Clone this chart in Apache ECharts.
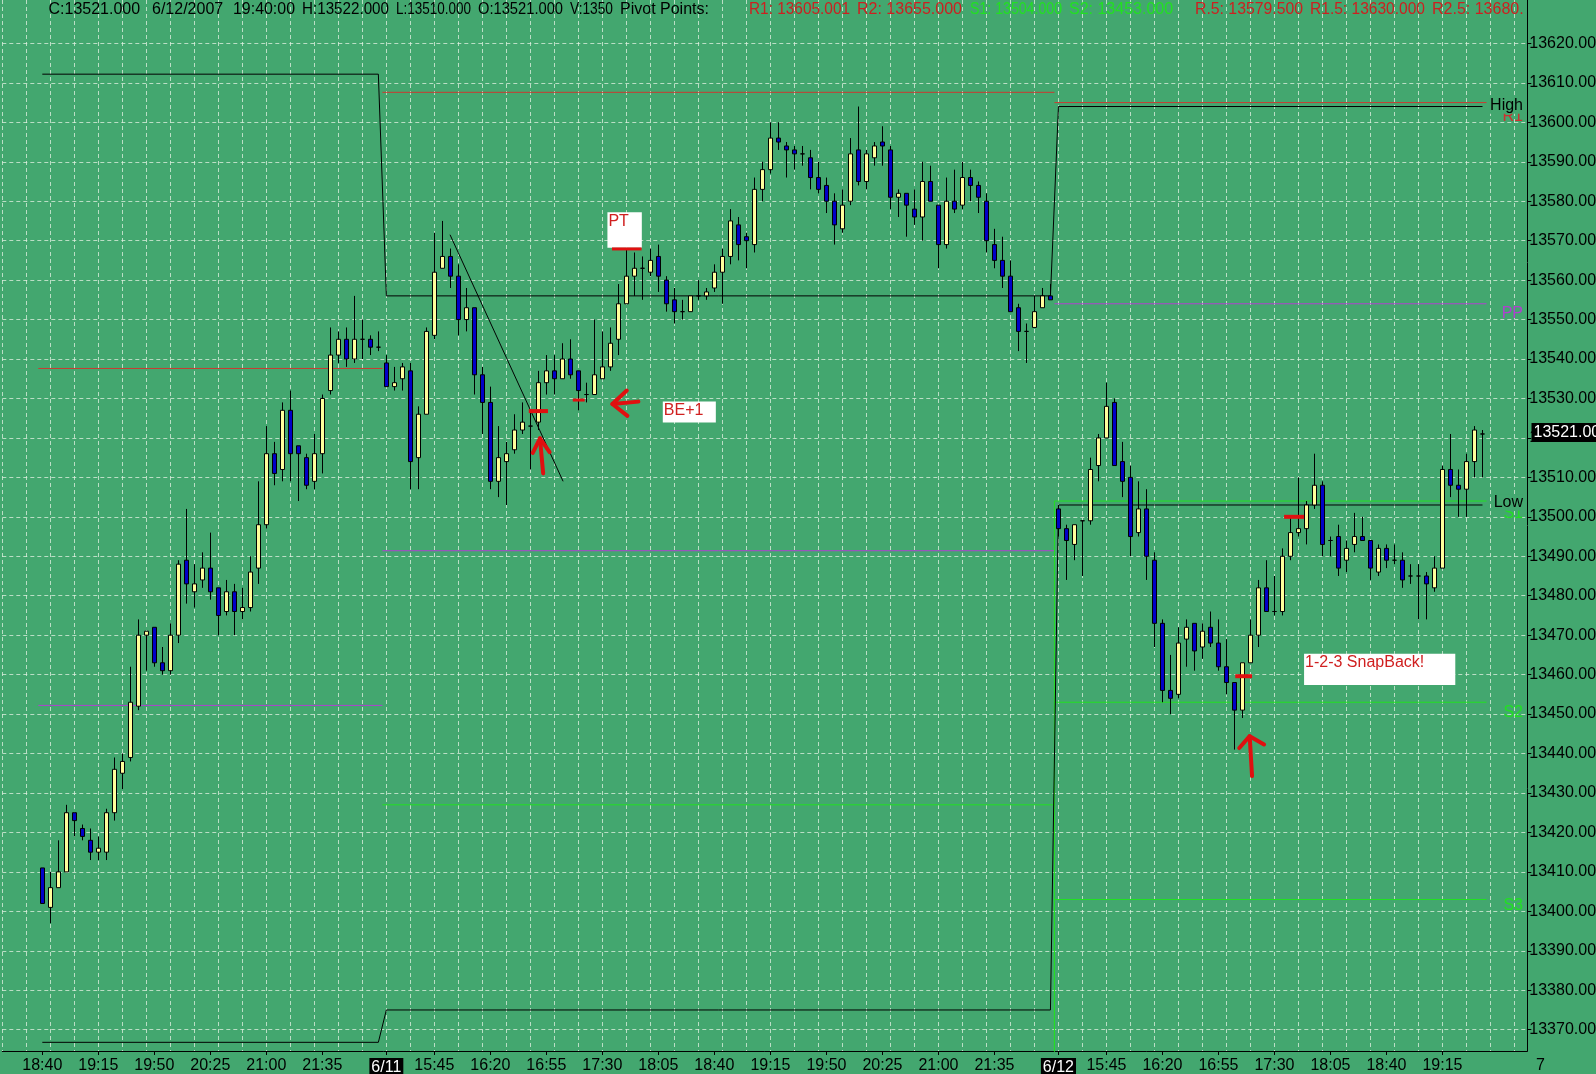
<!DOCTYPE html>
<html><head><meta charset="utf-8">
<script src="https://cdn.jsdelivr.net/npm/echarts@6/dist/echarts.min.js"></script>
<style>html,body{margin:0;padding:0;background:#43a76f;overflow:hidden}#c{width:1596px;height:1074px}</style>
</head><body><div id="c"></div>
<script>
// ---- candle data (bar index = position, 5-minute bars) ----
const opens = [13411,13401,13406,13410,13425,13421,13418,13415,13415,13425,13435,13439,13452,13470,13472,13463,13461,13470,13489,13481,13484,13487,13482,13476,13481,13476,13477,13487,13498,13516,13512,13527,13518,13515,13509,13516,13532,13541,13545,13540,13545,13545,13543,13539,13533,13535,13537,13515,13526,13546,13563,13566,13561,13550,13553,13536,13529,13509,13514,13517,13522,13523,13524,13534,13537,13535,13540,13537,13531,13531,13535,13538,13545,13554,13561,13563,13562,13566,13560,13555,13552,13552,13556,13556,13558,13562,13566,13574,13571,13569,13583,13588,13596,13594,13593,13592,13591,13586,13584,13580,13573,13580,13593,13585,13591,13595,13593,13581,13582,13578,13576,13585,13579,13569,13580,13579,13586,13584,13580,13569,13565,13561,13553,13547,13548,13553,13556,13502,13497,13493,13499,13499,13513,13520,13529,13514,13510,13496,13502,13489,13473,13456,13455,13469,13473,13467,13472,13468,13462,13458,13451,13463,13470,13482,13476,13476,13490,13496,13497,13503,13508,13494,13495,13489,13493,13495,13494,13486,13492,13489,13489,13485,13485,13485,13482,13487,13512,13508,13507,13514,13521];
const closes = [13402,13406,13410,13425,13423,13419,13415,13416,13425,13436,13438,13453,13470,13471,13463,13461,13470,13488,13483,13483,13487,13481,13475,13481,13476,13477,13486,13498,13516,13511,13527,13516,13516,13508,13516,13530,13541,13545,13540,13545,13545,13543,13543,13533,13534,13538,13514,13526,13547,13562,13566,13561,13550,13553,13536,13529,13509,13515,13516,13522,13524,13523,13534,13537,13535,13540,13536,13532,13531,13536,13538,13544,13554,13561,13563,13563,13565,13561,13554,13552,13552,13556,13556,13557,13562,13566,13575,13569,13570,13583,13588,13596,13595,13593,13592,13592,13586,13583,13580,13574,13579,13592,13585,13592,13594,13594,13581,13582,13579,13576,13585,13580,13569,13580,13578,13586,13584,13581,13570,13565,13561,13552,13547,13547,13552,13556,13555,13497,13494,13498,13499,13512,13520,13528,13513,13509,13495,13502,13490,13473,13456,13454,13468,13472,13466,13471,13468,13462,13458,13451,13463,13470,13482,13476,13476,13490,13496,13497,13503,13508,13493,13494,13487,13492,13495,13494,13487,13492,13489,13489,13484,13485,13485,13483,13487,13512,13508,13507,13514,13522,13521];
const lows = [13402,13397,13406,13410,13419,13418,13413,13413,13413,13423,13431,13438,13451,13461,13462,13460,13460,13468,13478,13477,13482,13479,13470,13475,13470,13474,13476,13483,13497,13508,13509,13509,13504,13507,13507,13511,13531,13539,13538,13539,13540,13541,13542,13533,13532,13532,13507,13507,13526,13545,13563,13558,13546,13547,13531,13521,13507,13505,13503,13516,13521,13512,13522,13531,13531,13535,13535,13527,13529,13531,13535,13537,13541,13554,13556,13555,13561,13557,13552,13549,13550,13552,13555,13555,13557,13554,13564,13565,13563,13567,13580,13587,13593,13586,13588,13589,13583,13582,13577,13569,13572,13579,13584,13583,13589,13589,13578,13576,13571,13574,13570,13580,13563,13568,13577,13578,13580,13577,13567,13563,13558,13552,13542,13539,13548,13553,13555,13495,13484,13489,13485,13498,13509,13520,13513,13505,13490,13495,13484,13467,13453,13450,13454,13462,13461,13464,13467,13461,13455,13441,13449,13463,13467,13476,13475,13475,13489,13495,13493,13502,13490,13490,13485,13486,13491,13494,13484,13485,13487,13488,13482,13483,13474,13474,13481,13487,13505,13500,13500,13510,13510];
const highs = [13411,13410,13418,13427,13425,13422,13421,13419,13426,13439,13440,13462,13474,13471,13472,13467,13473,13489,13502,13488,13491,13496,13482,13484,13483,13482,13490,13509,13523,13519,13529,13532,13518,13516,13521,13531,13548,13547,13548,13556,13550,13546,13547,13541,13538,13539,13539,13528,13548,13572,13575,13568,13564,13558,13553,13538,13533,13523,13519,13526,13529,13527,13537,13541,13541,13544,13545,13537,13534,13550,13547,13548,13559,13568,13567,13566,13568,13569,13561,13558,13555,13556,13560,13558,13564,13568,13578,13576,13572,13586,13590,13600,13600,13595,13594,13594,13593,13590,13586,13582,13583,13596,13604,13593,13595,13599,13594,13583,13582,13583,13590,13589,13579,13586,13588,13590,13588,13585,13582,13573,13571,13565,13554,13549,13556,13558,13559,13503,13498,13498,13499,13515,13521,13534,13530,13519,13513,13509,13507,13491,13474,13465,13472,13474,13473,13473,13476,13474,13469,13458,13463,13474,13484,13489,13485,13492,13500,13510,13504,13516,13509,13495,13498,13494,13501,13500,13494,13493,13493,13493,13491,13488,13488,13486,13490,13513,13521,13512,13516,13523,13522];

// ---- x axis tick labels ----
const tickPos  = [0,7,14,21,28,35,43,49,56,63,70,77,84,91,98,105,112,119,127,133,140,147,154,161,168,175];
const tickText = ['18:40','19:15','19:50','20:25','21:00','21:35','6/11','15:45','16:20','16:55','17:30','18:05','18:40','19:15','19:50','20:25','21:00','21:35','6/12','15:45','16:20','16:55','17:30','18:05','18:40','19:15'];
const dateLabels = ['6/11','6/12'];
// ---- y axis tick values ----
const yTicks = [13370,13380,13390,13400,13410,13420,13430,13440,13450,13460,13470,13480,13490,13500,13510,13520,13530,13540,13550,13560,13570,13580,13590,13600,13610,13620];

// ---- sessions and pivot levels ----
const dayStart = [0, 43, 127];
const dayEnd   = [42, 126, 180];
const prevHigh = [13612.2, 13556, 13604];
const prevLow  = [13366.8, 13375, 13503];
const r1Level  = [13537.6, 13607.6, 13605];
const ppLevel  = [13452.2, 13491.4, 13554];
const s1Level  = [null, 13427, 13504];
const s2Level  = [null, 13310, 13453];
const s3Level  = [null, 13246, 13403];

// ---- header ----
const headerText = ['C:13521.000','6/12/2007','19:40:00','H:13522.000','L:13510.000','O:13521.000','V:1350','Pivot Points:','R1: 13605.001','R2: 13655.000','S1: 13504.000','S2: 13453.000','R.5: 13579.500','R1.5: 13630.000','R2.5: 13680.'];
const headerKind = ['k','k','k','k','k','k','k','k','r','r','g','g','r','r','r'];
const lastPrice = 13521;

// ---- annotations (data coordinates: bar position, price) ----
const trendLine = [[50.96, 13571.5], [65.09, 13509.0]];
const redMarks = [[60.8, 63.2, 13526.8, 4], [66.3, 67.8, 13529.6, 3], [71.2, 74.9, 13567.9, 3], [149.1, 151.2, 13459.6, 4], [155.2, 157.7, 13500.0, 4]];
const noteBoxes = [[70.63, 74.93, 13577.2, 13568.2, 'PT'], [77.55, 84.18, 13529.2, 13523.9, 'BE+1'], [157.7, 176.6, 13465.3, 13457.4, '1-2-3 SnapBack!']];
const arrows = [
  {shaft: [[62.6, 13511.0], [62.2, 13519.9]], head: [[61.3, 13516.2], [62.2, 13519.9], [63.4, 13516.4]]},
  {shaft: [[151.2, 13434.3], [150.9, 13444.4]], head: [[149.6, 13441.4], [150.9, 13444.4], [152.7, 13442.3]]},
  {shaft: [[74.5, 13529.2], [71.25, 13528.6]], head: [[73.05, 13532.0], [71.25, 13528.6], [73.13, 13525.6]]}
];
// [text, colour, price at label centre, covers what is beneath]
const sideLabels = [['R1','#d03030',13601.5,false],['High','#000',13604.2,true],['PP','#b040d0',13551.6,false],['S1','#22e022',13500.8,false],['Low','#000',13503.6,true],['S2','#22e022',13450.3,false],['S3','#22e022',13401.4,false]];

const FONT = 'Liberation Sans, Arial, sans-serif';
const GREEN_BG = '#43a76f';
const GRID_LINE = {show: true, lineStyle: {color: 'rgba(225,240,225,0.75)', type: [4, 3], width: 1}};

function stepLine(levels, connectFrom) {
  const out = [];
  for (let d = 0; d < levels.length; d++) {
    if (levels[d] == null) continue;
    if (out.length && !(connectFrom != null && d >= connectFrom)) out.push('-');
    out.push([dayStart[d] - 0.5, levels[d]], [dayEnd[d] + 0.5, levels[d]]);
  }
  return out;
}
function joinedLine(levels) {
  const out = [];
  for (let d = 0; d < levels.length; d++) out.push([dayStart[d], levels[d]], [dayEnd[d], levels[d]]);
  return out;
}
function lineSeries(data, color, z) {
  return {type: 'line', data, xAxisIndex: 0, yAxisIndex: 0, symbol: 'none', silent: true, animation: false,
    lineStyle: {color, width: 1}, z: z || 3, connectNulls: false};
}

const chart = echarts.init(document.getElementById('c'), null, {renderer: 'canvas'});
const X_MIN = -5, X_MAX = 185.6, Y_MIN = 13364.6, Y_MAX = 13631.0;
chart.setOption({
  animation: false,
  backgroundColor: GREEN_BG,
  grid: {left: 2.3, right: 68.7, top: 0, bottom: 23, containLabel: false, outerBoundsMode: 'none'},
  xAxis: [
    {type: 'value', min: X_MIN, max: X_MAX, interval: 3, position: 'bottom',
     axisLine: {show: true, onZero: false, lineStyle: {color: '#000', width: 1}},
     axisTick: {show: false}, axisLabel: {show: false}, splitLine: GRID_LINE},
    {type: 'value', min: X_MIN, max: X_MAX, position: 'bottom',
     axisLine: {show: false, onZero: false}, splitLine: {show: false},
     axisTick: {show: true, customValues: tickPos, length: 4, inside: false, lineStyle: {color: '#000'}},
     axisLabel: {show: true, customValues: tickPos, margin: 7, color: '#000', fontSize: 16, fontFamily: FONT,
       formatter: v => { const k = tickPos.indexOf(Math.round(v)); if (k < 0) return ''; const t = tickText[k]; return dateLabels.includes(t) ? '{d|' + t + '}' : t; },
       rich: {d: {backgroundColor: '#000', color: '#fff', fontSize: 16, fontFamily: FONT, padding: [2, 2, 4, 2]}}}}
  ],
  yAxis: [{type: 'value', position: 'right', min: Y_MIN, max: Y_MAX, scale: true,
    axisLine: {show: true, onZero: false, lineStyle: {color: '#000', width: 1}},
    axisTick: {show: true, customValues: yTicks, length: 4, lineStyle: {color: '#000'}},
    axisLabel: {show: true, customValues: yTicks, margin: 2, color: '#000', fontSize: 16, fontFamily: FONT, formatter: v => v.toFixed(3)},
    splitLine: GRID_LINE}],
  series: [
    {type: 'candlestick', xAxisIndex: 0, yAxisIndex: 0, barWidth: 4, z: 6, silent: true,
     data: opens.map((o, i) => [i, o, closes[i], lows[i], highs[i]]),
     itemStyle: {color: '#ffff9c', color0: '#0000c8', borderColor: '#000', borderColor0: '#000', borderWidth: 1}},
    lineSeries(stepLine(r1Level, null), '#c83c32', 3),
    lineSeries(stepLine(ppLevel, null), '#b040d0', 3),
    lineSeries(stepLine(s1Level, 2), '#22e022', 3),
    lineSeries(stepLine(s2Level, 2), '#22e022', 3),
    lineSeries(stepLine(s3Level, 2), '#22e022', 3),
    lineSeries(joinedLine(prevHigh), '#000', 4),
    lineSeries(joinedLine(prevLow), '#000', 4),
    lineSeries(trendLine, '#000', 7)
  ]
});

function px(x, y) { return chart.convertToPixel({xAxisIndex: 0, yAxisIndex: 0}, [x, y]); }
const g = [];
// header: each piece squeezed horizontally so it ends before the next one starts
const headerX = [48.5, 152, 233, 302, 396, 478, 570, 620, 749, 857, 970, 1069, 1195, 1310, 1432];
const headerEnd = 1524;
const kindColor = {k: '#000', r: '#cc2020', g: '#22e022'};
const measure = document.createElement('canvas').getContext('2d');
measure.font = '16px ' + FONT;
headerText.forEach((t, k) => {
  const avail = (k + 1 < headerX.length ? headerX[k + 1] - 7 : headerEnd) - headerX[k];
  const w = measure.measureText(t).width;
  const sx = Math.min(1, avail / w);
  g.push({type: 'text', x: headerX[k], y: 10, scaleX: sx, z: 20,
    style: {text: t, fill: kindColor[headerKind[k]], font: '16px ' + FONT, textVerticalAlign: 'middle'}});
});
// side labels
sideLabels.forEach(([t, c, p, cover]) => { const q = px(0, p); g.push({type: 'text', x: 1523, y: q[1], z: 20,
  style: Object.assign({text: t, fill: c, font: '16px ' + FONT, textAlign: 'right', textVerticalAlign: 'middle'},
    cover ? {backgroundColor: GREEN_BG, padding: [0, 0, 0, 1]} : {})}); });
// last price tag
{ const q = px(0, lastPrice); g.push({type: 'text', x: 1531.5, y: q[1] - 1.5, z: 30,
  style: {text: lastPrice.toFixed(3), fill: '#fff', font: '16px ' + FONT, textVerticalAlign: 'middle', backgroundColor: '#000', padding: [2, 40, 1, 2]}}); }
// note boxes
noteBoxes.forEach(([x0, x1, p0, p1, t]) => { const a = px(x0, p0), b = px(x1, p1);
  g.push({type: 'rect', z: 20, shape: {x: a[0], y: a[1], width: b[0] - a[0], height: b[1] - a[1]}, style: {fill: '#fff'}});
  g.push({type: 'text', z: 21, x: a[0] + 1, y: a[1] + 1, style: {text: t, fill: '#d02020', font: '16px ' + FONT, textVerticalAlign: 'top'}}); });
// red marks
redMarks.forEach(([x0, x1, p, w]) => { const a = px(x0, p), b = px(x1, p);
  g.push({type: 'line', z: 22, shape: {x1: a[0], y1: a[1], x2: b[0], y2: b[1]}, style: {stroke: '#e01010', lineWidth: w}}); });
// arrows
arrows.forEach(ar => {
  g.push({type: 'polyline', z: 22, shape: {points: ar.shaft.map(p => px(p[0], p[1]))}, style: {stroke: '#e01010', lineWidth: 4, fill: null, lineCap: 'round'}});
  g.push({type: 'polyline', z: 22, shape: {points: ar.head.map(p => px(p[0], p[1]))}, style: {stroke: '#e01010', lineWidth: 4, fill: null, lineCap: 'round', lineJoin: 'round'}});
});
// clipped trailing axis label
g.push({type: 'text', x: 1536, y: 1066, z: 20, style: {text: '7', fill: '#000', font: '16px ' + FONT, textVerticalAlign: 'middle'}});
chart.setOption({graphic: g});
</script>
</body></html>
